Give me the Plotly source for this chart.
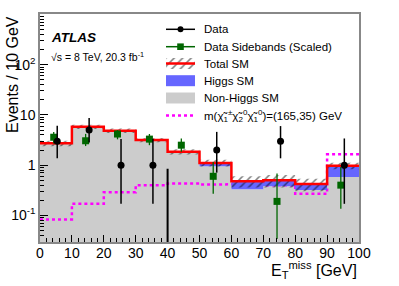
import math
import plotly.graph_objects as go

# ---------------- data ----------------
bin_edges = [0, 10, 20, 30, 40, 50, 60, 70, 80, 90, 100]
non_higgs_sm = [2.67, 5.73, 4.76, 3.08, 1.80, 0.95, 0.33, 0.38, 0.32, 0.58]
higgs_sm = [0.05, 0.10, 0.10, 0.08, 0.05, 0.16, 0.15, 0.12, 0.10, 0.39]
total_sm_rel_unc = [0.12, 0.10, 0.10, 0.10, 0.12, 0.15, 0.25, 0.28, 0.28, 0.15]
signal_165_35 = [0.083, 0.17, 0.29, 0.40, 0.43, 0.41, 0.42, 0.40, 0.27, 1.64]

data_x = [5.4, 15.4, 25.4, 35.4, 55.4, 75.4, 95.4]
data_y = [3, 5, 1, 1, 2, 3, 1]
data_err_hi = [3.1, 3.7, 2.3, 2.3, 2.6, 3.0, 2.4]
data_err_lo = [1.63, 2.16, 0.83, 0.83, 1.29, 1.63, 0.83]

side_x = [4.3, 14.3, 24.3, 34.3, 44.3, 54.3, 74.3, 94.3]
side_y = [3.6, 3.06, 4.17, 3.3, 2.5, 0.6, 0.19, 0.4]
side_err_hi = [1.0, 1.14, 0.83, 0.87, 0.9, 0.56, 0.49, 0.52]
side_err_lo = [0.9, 0.66, 0.9, 0.8, 0.65, 0.33, 0.156, 0.264]

cut_value = 40
cut_arrow_top = 7.0

x_tick_vals = [0, 10, 20, 30, 40, 50, 60, 70, 80, 90, 100]
y_tick_vals = [0.1, 1, 10, 100, 1000]
y_tick_text = ["10<sup>-1</sup>", "1", "10", "10<sup>2</sup>", ""]

legend_labels = [
    "Data",
    "Data Sidebands (Scaled)",
    "Total SM",
    "Higgs SM",
    "Non-Higgs SM",
    "m(χ̃<sub>1</sub><sup>±</sup>χ̃<sub>2</sub><sup>0</sup>χ̃<sub>1</sub><sup>0</sup>)=(165,35) GeV",
]

# ---------------- style ----------------
FONT = "Liberation Sans, Arial, Helvetica, sans-serif"
GRAY = "#cccccc"
BLUE = "#6666ff"
RED = "#ff0000"
MAG = "#ff00ff"
GREEN = "#006600"
Y_LOG_RANGE = [-1.53, 3.01]
BASE = 1e-4
HATCH = dict(shape="/", fgcolor="black", bgcolor="rgba(0,0,0,0)", size=6, solidity=0.25)

# plot area in pixels (used for the overlay pixel axes)
L, R, T, B = 40, 359, 14, 242
W, H = 399, 286


def px_to_paper(px, py):
    return (px - L) / (R - L), (B - py) / (B - T)


def steps(vals):
    xs, ys = [], []
    for i, v in enumerate(vals):
        xs += [bin_edges[i], bin_edges[i + 1]]
        ys += [v, v]
    return xs, ys


total_sm = [a + b for a, b in zip(non_higgs_sm, higgs_sm)]

fig = go.Figure()

# Non-Higgs SM (gray)
sx, sy = steps(non_higgs_sm)
fig.add_trace(go.Scatter(x=[bin_edges[0]] + sx + [bin_edges[-1]], y=[BASE] + sy + [BASE],
                         fill="toself", fillcolor=GRAY, line=dict(width=0), mode="lines",
                         hoverinfo="skip", showlegend=False))

# Signal (dotted magenta) drawn below Higgs stack
sx, sy = steps(signal_165_35)
fig.add_trace(go.Scatter(x=sx, y=sy, mode="lines",
                         line=dict(color=MAG, width=2.5, dash="dot"),
                         hoverinfo="skip", showlegend=False))

# Higgs SM (blue) stacked
tx, ty = steps(total_sm)
nx, ny = steps(non_higgs_sm)
fig.add_trace(go.Scatter(x=tx + nx[::-1], y=ty + ny[::-1], fill="toself", fillcolor=BLUE,
                         line=dict(width=0), mode="lines", hoverinfo="skip", showlegend=False))

# Total SM uncertainty band (hatched)
up = [t * (1 + u) for t, u in zip(total_sm, total_sm_rel_unc)]
dn = [t * (1 - u) for t, u in zip(total_sm, total_sm_rel_unc)]
ux, uy = steps(up)
dx, dy = steps(dn)
fig.add_trace(go.Scatter(x=ux + dx[::-1], y=uy + dy[::-1], fill="toself",
                         fillcolor="rgba(0,0,0,0)", fillpattern=HATCH,
                         line=dict(width=0), mode="lines", hoverinfo="skip", showlegend=False))

# Total SM line
fig.add_trace(go.Scatter(x=tx, y=ty, mode="lines", line=dict(color=RED, width=2.5),
                         hoverinfo="skip", showlegend=False))

# Data sidebands
fig.add_trace(go.Scatter(x=side_x, y=side_y, mode="markers",
                         marker=dict(symbol="square", size=7, color=GREEN),
                         error_y=dict(type="data", array=side_err_hi, arrayminus=side_err_lo,
                                      color=GREEN, thickness=1.3, width=0),
                         hoverinfo="skip", showlegend=False))

# Data
fig.add_trace(go.Scatter(x=data_x, y=data_y, mode="markers",
                         marker=dict(symbol="circle", size=7, color="black"),
                         error_y=dict(type="data", array=data_err_hi, arrayminus=data_err_lo,
                                      color="black", thickness=1.5, width=0),
                         hoverinfo="skip", showlegend=False))

# ---------------- cut arrow ----------------
ybot = Y_LOG_RANGE[0]
shapes = [
    dict(type="line", xref="x", yref="y", x0=cut_value, x1=cut_value,
         y0=math.log10(cut_arrow_top), y1=ybot, line=dict(color="black", width=2)),
    dict(type="line", xref="x", yref="y", x0=cut_value, x1=cut_value - 2.7,
         y0=ybot, y1=ybot + 0.28, line=dict(color="black", width=2)),
    dict(type="line", xref="x", yref="y", x0=cut_value, x1=cut_value + 2.7,
         y0=ybot, y1=ybot + 0.28, line=dict(color="black", width=2)),
]

# ---------------- hand-made legend (pixel overlay axes x2/y2) ----------------
row_y = [29.3, 46.7, 63.5, 80.7, 98.0, 115.5]
sym_x0, sym_x1, txt_x = 166, 195, 202
cx = (sym_x0 + sym_x1) / 2
box_h = 11

shapes.append(dict(type="line", xref="x2", yref="y2", x0=sym_x0, x1=sym_x1, y0=row_y[0], y1=row_y[0],
                   line=dict(color="black", width=1.5)))
shapes.append(dict(type="circle", xref="x2", yref="y2", x0=cx - 3, x1=cx + 3, y0=row_y[0] - 3,
                   y1=row_y[0] + 3, fillcolor="black", line=dict(width=0)))
shapes.append(dict(type="line", xref="x2", yref="y2", x0=sym_x0, x1=sym_x1, y0=row_y[1], y1=row_y[1],
                   line=dict(color=GREEN, width=1.5)))
shapes.append(dict(type="rect", xref="x2", yref="y2", x0=cx - 3.3, x1=cx + 3.3, y0=row_y[1] - 3.3,
                   y1=row_y[1] + 3.3, fillcolor=GREEN, line=dict(width=0)))
shapes.append(dict(type="rect", xref="x2", yref="y2", x0=sym_x0, x1=sym_x1, y0=row_y[3] - box_h / 2,
                   y1=row_y[3] + box_h / 2, fillcolor=BLUE, line=dict(width=0)))
shapes.append(dict(type="rect", xref="x2", yref="y2", x0=sym_x0, x1=sym_x1, y0=row_y[4] - box_h / 2,
                   y1=row_y[4] + box_h / 2, fillcolor=GRAY, line=dict(width=0)))
shapes.append(dict(type="line", xref="x2", yref="y2", x0=sym_x0, x1=sym_x1, y0=row_y[5], y1=row_y[5],
                   line=dict(color=MAG, width=2.5, dash="dot")))

fig.add_trace(go.Scatter(x=[sym_x0, sym_x1, sym_x1, sym_x0, sym_x0],
                         y=[row_y[2] - box_h / 2, row_y[2] - box_h / 2, row_y[2] + box_h / 2,
                            row_y[2] + box_h / 2, row_y[2] - box_h / 2],
                         xaxis="x2", yaxis="y2", fill="toself", fillcolor="rgba(0,0,0,0)",
                         fillpattern=HATCH,
                         line=dict(width=0), mode="lines", hoverinfo="skip", showlegend=False))
fig.add_trace(go.Scatter(x=[sym_x0, sym_x1], y=[row_y[2], row_y[2]], xaxis="x2", yaxis="y2",
                         mode="lines", line=dict(color=RED, width=2.5), hoverinfo="skip",
                         showlegend=False))

annotations = []
for lab, yy in zip(legend_labels, row_y):
    annotations.append(dict(xref="x2", yref="y2", x=txt_x, y=yy, text=lab, showarrow=False,
                            xanchor="left", yanchor="middle",
                            font=dict(family=FONT, size=11.5, color="black")))

annotations.append(dict(xref="x2", yref="y2", x=49, y=37.5, text="<b><i>ATLAS</i></b>",
                        showarrow=False, xanchor="left", yanchor="middle",
                        font=dict(family=FONT, size=13.5, color="black")))
annotations.append(dict(xref="x2", yref="y2", x=49, y=56,
                        text="√s = 8 TeV, 20.3 fb<sup>-1</sup>",
                        showarrow=False, xanchor="left", yanchor="middle",
                        font=dict(family=FONT, size=10.5, color="black")))

# axis titles (paper coordinates, outside plot area)
yt_x, yt_y = px_to_paper(12.5, 14)
annotations.append(dict(xref="paper", yref="paper", x=yt_x, y=yt_y, text="Events / 10 GeV",
                        textangle=-90, showarrow=False, xanchor="center", yanchor="top",
                        font=dict(family=FONT, size=16, color="black")))
xt_x, xt_y = px_to_paper(359, 270)
annotations.append(dict(xref="paper", yref="paper", x=xt_x, y=xt_y,
                        text="E<sub>T</sub><sup>miss</sup> [GeV]",
                        showarrow=False, xanchor="right", yanchor="middle",
                        font=dict(family=FONT, size=16, color="black")))

minor_y = [k * 10 ** e for e in range(-2, 3) for k in range(2, 10)]

fig.update_layout(
    width=W, height=H, autosize=False,
    margin=dict(l=L, r=W - R, t=T, b=H - B, pad=0),
    paper_bgcolor="white", plot_bgcolor="white",
    showlegend=False,
    font=dict(family=FONT, size=14, color="black"),
    shapes=shapes, annotations=annotations,
    xaxis=dict(range=[bin_edges[0], bin_edges[-1]], tickmode="array", tickvals=x_tick_vals,
               ticks="inside", ticklen=7, tickwidth=1, tickcolor="black",
               showline=True, linecolor="#888888", linewidth=1.5, mirror=True,
               showgrid=False, zeroline=False, ticklabelstandoff=-3,
               tickfont=dict(family=FONT, size=14, color="black"),
               minor=dict(dtick=2, ticks="inside", ticklen=4, tickcolor="black", showgrid=False)),
    yaxis=dict(type="log", range=Y_LOG_RANGE, tickmode="array", tickvals=y_tick_vals,
               ticktext=y_tick_text, ticks="inside", ticklen=8, tickwidth=1, tickcolor="black",
               showline=True, linecolor="#888888", linewidth=1.5, mirror=True,
               showgrid=False, zeroline=False,
               tickfont=dict(family=FONT, size=14, color="black"),
               minor=dict(tickmode="array", tickvals=minor_y, ticks="inside", ticklen=4,
                          tickcolor="black", showgrid=False)),
    xaxis2=dict(overlaying="x", range=[L, R], visible=False, fixedrange=True),
    yaxis2=dict(overlaying="y", anchor="x2", range=[B, T], visible=False, fixedrange=True),
)

fig.write_html("out.html", config={"displayModeBar": False},
               post_script="document.body.style.margin='0';")
